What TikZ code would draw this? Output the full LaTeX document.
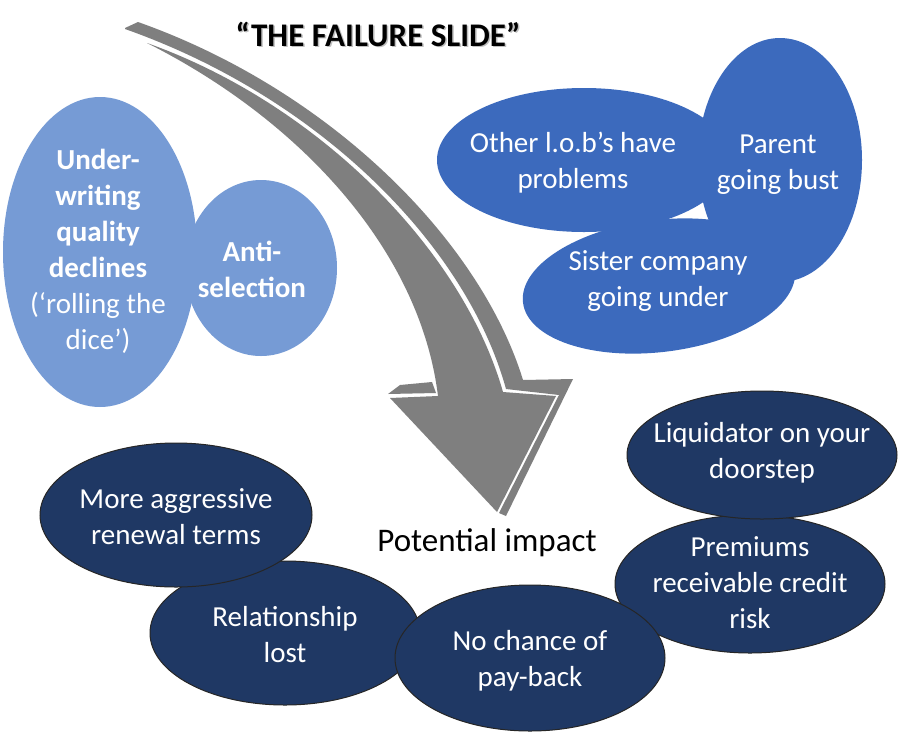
\documentclass[tikz,border=0pt]{standalone}
\usepackage{fontspec}
\setmainfont{Carlito}
\usetikzlibrary{shapes.geometric}
\definecolor{lightblue}{RGB}{118,155,213}
\definecolor{midblue}{RGB}{60,106,189}
\definecolor{navy}{RGB}{31,56,100}
\definecolor{arrowgray}{RGB}{127,127,127}
\tikzset{
  lbblob/.style={ellipse, fill=lightblue, draw=none, inner sep=0pt},
  mbblob/.style={ellipse, fill=midblue, draw=none, inner sep=0pt},
  nvblob/.style={ellipse, fill=navy, draw=black!85, line width=1pt, inner sep=0pt, minimum width=270pt},
  wtxt/.style={text=white, align=center, inner sep=0pt, font=\fontsize{29}{36}\selectfont},
  face/.style={fill=arrowgray, draw=none},
  titletxt/.style={font=\fontsize{33}{40}\selectfont\bfseries}
}
\begin{document}
\begin{tikzpicture}[x=1pt,y=-1pt]
\useasboundingbox (0,0) rectangle (900,740);
\fill[white] (0,0) rectangle (900,740);

% ---- curved 3D arrow ----
% side face
\fill[face] (125,28) -- (138,22) .. controls (330,90) and (480,240) .. (523,380)
  -- (573,379) -- (506,516) -- (499,513) -- (559,395) -- (506,389)
  .. controls (466,244) and (318,97) .. (125,29) -- cycle;
% front face
\fill[face] (147,43) .. controls (316,103) and (462,248) .. (503,392)
  -- (556,396) -- (497,512) -- (390,398) -- (438,396)
  .. controls (420,250) and (300,120) .. (147,43) -- cycle;
% left wing top face
\fill[face] (388,394) -- (400,385) -- (432,382) -- (436,393) -- cycle;

% ---- title ----
\node[text=black!25, titletxt] at (379.5,35.5) {“THE FAILURE SLIDE”};
\node[text=black, titletxt] (title) at (378,34) {“THE FAILURE SLIDE”};

% ---- left cluster ----
\node[lbblob, minimum width=194pt, minimum height=310pt] (uw) at (100,252) {};
\node[lbblob, minimum width=152pt, minimum height=176pt] (as) at (261,268) {};
\node[wtxt] (uwt) at (98,251) {\textbf{Under-}\\\textbf{writing}\\\textbf{quality}\\\textbf{declines}\\(‘rolling the\\dice’)};
\node[wtxt] (ast) at (252,269) {\textbf{Anti-}\\\textbf{selection}};

% ---- top right cluster ----
\node[mbblob, minimum width=294pt, minimum height=144pt] (oth) at (584,160) {};
\node[mbblob, minimum width=164pt, minimum height=244pt] (par) at (780,160) {};
\node[mbblob, minimum width=274pt, minimum height=132pt, rotate=7] (sis) at (659,286) {};
\node[wtxt] (otht) at (573,163) {Other l.o.b’s have\\problems};
\node[wtxt] (part) at (778,165) {Parent\\going bust};
\node[wtxt] (sist) at (658,281) {Sister company\\going under};

% ---- bottom cluster ----
\node[nvblob, minimum height=144pt] (rel) at (285,633) {};
\node[nvblob, minimum height=138pt] (pre) at (750,584) {};
\node[nvblob, minimum height=146pt] (noc) at (530,658) {};
\node[nvblob, minimum height=144pt, minimum width=272pt] (mag) at (176,515) {};
\node[nvblob, minimum height=128pt] (liq) at (762,455) {};
\node[wtxt] (relt) at (285,635) {Relationship\\lost};
\node[wtxt] (pret) at (750,583) {Premiums\\receivable credit\\risk};
\node[wtxt] (noct) at (530,661) {No chance of\\pay-back};
\node[wtxt] (magt) at (176,517) {More aggressive\\renewal terms};
\node[wtxt] (liqt) at (762,453) {Liquidator on your\\doorstep};

% ---- potential impact ----
\node[text=black, inner sep=0pt, font=\fontsize{33}{40}\selectfont] (pot) at (487,543) {Potential impact};
\end{tikzpicture}
\end{document}
